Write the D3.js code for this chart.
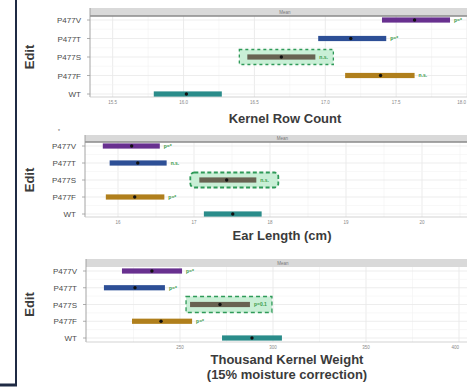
<!DOCTYPE html>
<html><head><meta charset="utf-8">
<script src="https://cdn.jsdelivr.net/npm/d3@7"></script>
<style>body{margin:0;background:#fff;overflow:hidden}svg{display:block}</style>
</head><body>
<script>
const edits = ["P477V","P477T","P477S","P477F","WT"];
const colors = ["#68308f","#2d4f96","#686352","#b07f1c","#2a8c8a"];
const highlight = "P477S";

const krcLo   = [17.40,16.95,16.45,17.14,15.79];
const krcMean = [17.63,17.18,16.69,17.39,16.02];
const krcHi   = [17.88,17.43,16.93,17.63,16.27];
const krcTicks = [15.5,16.0,16.5,17.0,17.5,18.0];
const krcNotes = ["p=*","p=*","n.s.","n.s.",""];

const elLo   = [15.80,15.89,17.07,15.84,17.13];
const elMean = [16.18,16.26,17.43,16.22,17.51];
const elHi   = [16.55,16.64,17.82,16.61,17.89];
const elTicks = [16,17,18,19,20];
const elNotes = ["p=*","n.s.","n.s.","p=*",""];

const tkwLo   = [218.8,209.1,255.4,224.2,272.6];
const tkwMean = [234.9,225.8,271.5,239.8,288.7];
const tkwHi   = [251.1,241.9,287.6,256.5,304.8];
const tkwTicks = [250,300,350,400];
const tkwNotes = ["p=*","p=*","p=0.1","p=*",""];

const W = 467, H = 389;
const svg = d3.select("body").append("svg").attr("width", W).attr("height", H);

svg.append("line").attr("x1",16).attr("x2",16).attr("y1",0).attr("y2",386)
  .attr("stroke","#1f2a44").attr("stroke-width",2);
svg.append("line").attr("x1",0).attr("x2",17).attr("y1",385).attr("y2",385)
  .attr("stroke","#1f2a44").attr("stroke-width",3);

function panel(cfg){
  const g = svg.append("g");
  const x = d3.scaleLinear().domain(cfg.domain).range([cfg.left, cfg.right]);
  const y = d3.scalePoint().domain(edits).range([cfg.rowTop, cfg.rowBot]);
  const step = y.step();
  const ticks = cfg.ticks;
  const dt = ticks[1]-ticks[0];
  const minor = [];
  for (let i=-1;i<ticks.length;i++){ minor.push(ticks[0]+dt*(i+0.5)); }
  g.selectAll(".mn").data(minor.filter(v=>x(v)>cfg.left)).join("line")
    .attr("x1",d=>x(d)).attr("x2",d=>x(d)).attr("y1",cfg.top).attr("y2",cfg.bottom)
    .attr("stroke","#f2f2f2").attr("stroke-width",0.6);
  g.selectAll(".mj").data(ticks).join("line")
    .attr("x1",d=>x(d)).attr("x2",d=>x(d)).attr("y1",cfg.top).attr("y2",cfg.bottom)
    .attr("stroke","#e6e6e6").attr("stroke-width",0.8);
  g.selectAll(".hg").data(edits).join("line")
    .attr("x1",cfg.left).attr("x2",cfg.right).attr("y1",d=>y(d)).attr("y2",d=>y(d))
    .attr("stroke","#e8e8e8").attr("stroke-width",0.8);
  g.selectAll(".hgm").data(edits.slice(1)).join("line")
    .attr("x1",cfg.left).attr("x2",cfg.right).attr("y1",d=>y(d)-step/2).attr("y2",d=>y(d)-step/2)
    .attr("stroke","#f4f4f4").attr("stroke-width",0.6);
  g.append("rect").attr("x",cfg.left).attr("y",cfg.stripTop).attr("width",cfg.right-cfg.left)
    .attr("height",cfg.top-cfg.stripTop).attr("fill","#d9d9d9");
  if (cfg.stripLine) g.append("line").attr("x1",cfg.left).attr("x2",cfg.right)
    .attr("y1",cfg.top).attr("y2",cfg.top).attr("stroke","#8a8a8a").attr("stroke-width",1.6);
  g.append("text").attr("x",(cfg.left+480)/2).attr("y",(cfg.stripTop+cfg.top)/2+1.5)
    .attr("text-anchor","middle").attr("font-size",4.5).attr("fill","#777")
    .attr("font-family","Liberation Sans, Arial, sans-serif").text("Mean");
  g.append("line").attr("x1",cfg.left).attr("x2",cfg.left).attr("y1",cfg.stripTop).attr("y2",cfg.bottom)
    .attr("stroke","#9a9a9a").attr("stroke-width",0.9);
  g.append("line").attr("x1",cfg.left).attr("x2",cfg.right).attr("y1",cfg.bottom).attr("y2",cfg.bottom)
    .attr("stroke","#c8c8c8").attr("stroke-width",0.8);
  const hi = edits.indexOf(highlight);
  const hx0 = x(cfg.lo[hi]) - cfg.padL, hx1 = x(cfg.hi[hi]) + cfg.padR;
  g.append("rect").attr("x",hx0).attr("y",y(highlight)-cfg.boxH/2).attr("width",hx1-hx0)
    .attr("height",cfg.boxH).attr("rx",cfg.rx).attr("fill","#c9efd6")
    .attr("stroke","#2f9a58").attr("stroke-width",cfg.dashW).attr("stroke-dasharray",cfg.dash);
  g.selectAll(".bar").data(edits).join("rect")
    .attr("x",(d,i)=>x(cfg.lo[i])).attr("width",(d,i)=>x(cfg.hi[i])-x(cfg.lo[i]))
    .attr("y",d=>y(d)-2.6).attr("height",5.2).attr("fill",(d,i)=>colors[i]);
  g.selectAll(".dot").data(edits).join("circle")
    .attr("cx",(d,i)=>x(cfg.mean[i])).attr("cy",d=>y(d)).attr("r",1.7).attr("fill","#111");
  g.selectAll(".note").data(edits).join("text")
    .attr("x",(d,i)=>x(cfg.hi[i])+4).attr("y",d=>y(d)+1.8)
    .attr("font-size",5).attr("fill","#3a9a4a").attr("font-weight","bold")
    .attr("font-family","Liberation Sans, Arial, sans-serif").text((d,i)=>cfg.notes[i]);
  g.selectAll(".yl").data(edits).join("text")
    .attr("x",cfg.left-9).attr("y",d=>y(d)+3).attr("text-anchor","end")
    .attr("font-size",8).attr("fill","#4a4a4a")
    .attr("font-family","Liberation Sans, Arial, sans-serif").text(d=>d);
  g.selectAll(".yt").data(edits).join("line")
    .attr("x1",cfg.left-3).attr("x2",cfg.left).attr("y1",d=>y(d)).attr("y2",d=>y(d))
    .attr("stroke","#999").attr("stroke-width",0.8);
  g.selectAll(".xl").data(ticks).join("text")
    .attr("x",d=>Math.min(x(d), W-1)).attr("y",cfg.bottom+7)
    .attr("text-anchor",d=>x(d)>W-8?"end":"middle")
    .attr("font-size",4.5).attr("fill","#888")
    .attr("font-family","Liberation Sans, Arial, sans-serif").text(d=>cfg.fmt(d));
  g.append("text").attr("transform",`translate(34,${(cfg.rowTop+cfg.rowBot)/2}) rotate(-90)`)
    .attr("text-anchor","middle").attr("font-size",13).attr("font-weight","bold").attr("fill","#3b3b3b")
    .attr("font-family","Liberation Sans, Arial, sans-serif").text("Edit");
  cfg.title.forEach((t,i)=>{
    g.append("text").attr("x",cfg.titleX).attr("y",cfg.titleY+i*15).attr("text-anchor","middle")
      .attr("font-size",13).attr("font-weight","bold").attr("fill","#3b3b3b")
      .attr("font-family","Liberation Sans, Arial, sans-serif").text(t);
  });
}

panel({domain:[15.34,18.0+ (480-467)/142], left:90, right:480, stripTop:8, top:16, bottom:97,
  rowTop:20, rowBot:94, lo:krcLo, mean:krcMean, hi:krcHi, ticks:krcTicks, notes:krcNotes,
  fmt:d3.format(".1f"), stripLine:true, padL:8, padR:18, boxH:15, rx:0, dash:"3,3", dashW:1.3,
  title:["Kernel Row Count"], titleX:285, titleY:123});

panel({domain:[16 - (118-85)/76, 16 + (480-118)/76], left:85, right:480, stripTop:135, top:142, bottom:217,
  rowTop:146, rowBot:214, lo:elLo, mean:elMean, hi:elHi, ticks:elTicks, notes:elNotes,
  fmt:d3.format("d"), stripLine:true, padL:9, padR:22, boxH:15, rx:4, dash:"4,2.5", dashW:1.8,
  title:["Ear Length (cm)"], titleX:282, titleY:240});

panel({domain:[250 - (180-86)*50/93, 250 + (480-180)*50/93], left:86, right:480, stripTop:259, top:267, bottom:342,
  rowTop:271, rowBot:338, lo:tkwLo, mean:tkwMean, hi:tkwHi, ticks:tkwTicks, notes:tkwNotes,
  fmt:d3.format("d"), stripLine:false, padL:4, padR:22, boxH:16, rx:0, dash:"4,3", dashW:1.3,
  title:["Thousand Kernel Weight","(15% moisture correction)"], titleX:287, titleY:364});

svg.append("text").attr("x",58).attr("y",133).attr("font-size",5).attr("fill","#555")
  .attr("font-family","Liberation Sans, Arial, sans-serif").text("*");
</script>
</body></html>
